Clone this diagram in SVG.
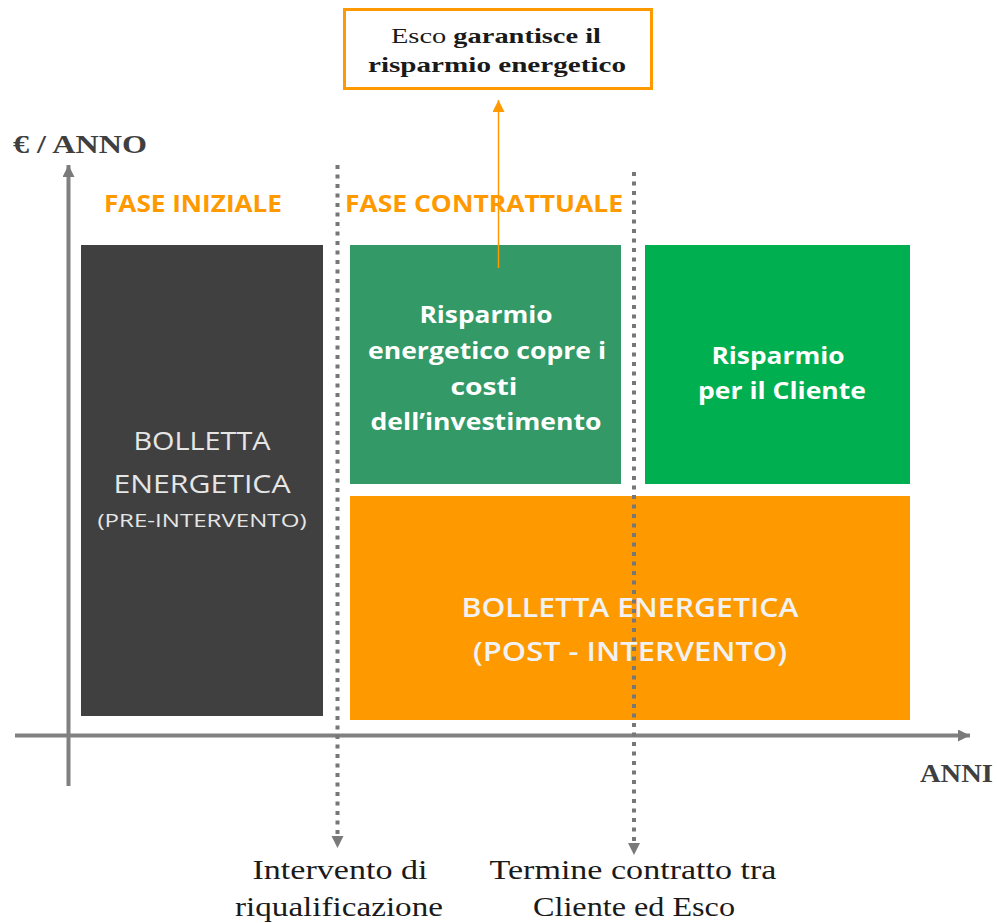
<svg xmlns="http://www.w3.org/2000/svg" width="997" height="923" viewBox="0 0 997 923">
<style>
.sans{font-family:"Open Sans","Liberation Sans",sans-serif}
.serif{font-family:"Liberation Serif","DejaVu Serif",serif}
.wt{fill:#ffffff;font-weight:bold;font-size:23px;text-anchor:middle}
.lt{fill:#e6e6e6;font-size:25px;text-anchor:middle}
.ph{fill:#ff9900;font-weight:bold;font-size:24px}
.bt{fill:#1a1a1a;font-size:27px;text-anchor:middle}
.ax{fill:#3f3f3f;font-weight:bold;font-size:25px}
.dot{stroke:#777777;stroke-width:4;stroke-dasharray:4 5.5;fill:none}
</style>
<defs>
<marker id="ga" markerWidth="14" markerHeight="14" refX="12" refY="6" orient="auto" markerUnits="userSpaceOnUse"><path d="M0,0 L12,6 L0,12 Z" fill="#7a7a7a"/></marker>
<marker id="oa" markerWidth="14" markerHeight="14" refX="12" refY="6" orient="auto" markerUnits="userSpaceOnUse"><path d="M0,0 L12,6 L0,12 Z" fill="#ff9900"/></marker>
</defs>
<rect width="997" height="923" fill="#ffffff"/>

<g id="bolletta-pre">
<rect x="81" y="245" width="242" height="471" fill="#404040"/>
<text class="sans lt" x="202" y="450" textLength="137" lengthAdjust="spacingAndGlyphs">BOLLETTA</text>
<text class="sans lt" x="202" y="493" textLength="177" lengthAdjust="spacingAndGlyphs">ENERGETICA</text>
<text class="sans lt" x="202" y="527" style="font-size:19px" textLength="209" lengthAdjust="spacingAndGlyphs">(PRE-INTERVENTO)</text>
</g>

<g id="risparmio-investimento">
<rect x="350" y="245" width="271" height="239" fill="#339966"/>
<text class="sans wt" x="486" y="323" textLength="133" lengthAdjust="spacingAndGlyphs">Risparmio</text>
<text class="sans wt" x="487" y="359" textLength="238" lengthAdjust="spacingAndGlyphs">energetico copre i</text>
<text class="sans wt" x="484" y="395" textLength="67" lengthAdjust="spacingAndGlyphs">costi</text>
<text class="sans wt" x="486" y="430" textLength="231" lengthAdjust="spacingAndGlyphs">dell’investimento</text>
</g>

<g id="risparmio-cliente">
<rect x="645" y="245" width="265" height="239" fill="#00b050"/>
<text class="sans wt" x="778" y="364" textLength="133" lengthAdjust="spacingAndGlyphs">Risparmio</text>
<text class="sans wt" x="782" y="399" textLength="168" lengthAdjust="spacingAndGlyphs">per il Cliente</text>
</g>

<g id="bolletta-post">
<rect x="350" y="496" width="560" height="224" fill="#ff9900"/>
<text class="sans lt" x="630" y="617" style="font-weight:600;font-size:27px;fill:#f2f2f2" textLength="337" lengthAdjust="spacingAndGlyphs">BOLLETTA  ENERGETICA</text>
<text class="sans lt" x="630" y="661" style="font-weight:600;font-size:27px;fill:#f2f2f2" textLength="314" lengthAdjust="spacingAndGlyphs">(POST - INTERVENTO)</text>
</g>

<g id="esco-box">
<rect x="344.5" y="9.5" width="307" height="79" fill="#ffffff" stroke="#ff9900" stroke-width="3"/>
<text class="serif" x="496" y="43" style="font-size:22px;fill:#1a1a1a;text-anchor:middle" textLength="210" lengthAdjust="spacingAndGlyphs">Esco <tspan font-weight="bold">garantisce il</tspan></text>
<text class="serif" x="497" y="72" style="font-size:22px;fill:#1a1a1a;text-anchor:middle;font-weight:bold" textLength="258" lengthAdjust="spacingAndGlyphs">risparmio energetico</text>
</g>

<g id="labels">
<text class="serif ax" x="13" y="153" textLength="134" lengthAdjust="spacingAndGlyphs">€ / ANNO</text>
<text class="serif ax" x="920" y="782" textLength="73" lengthAdjust="spacingAndGlyphs">ANNI</text>
<text class="sans ph" x="104" y="212" textLength="178" lengthAdjust="spacingAndGlyphs">FASE INIZIALE</text>
<text class="sans ph" x="345" y="212" textLength="278" lengthAdjust="spacingAndGlyphs">FASE CONTRATTUALE</text>
<text class="serif bt" x="340" y="879" textLength="175" lengthAdjust="spacingAndGlyphs">Intervento di</text>
<text class="serif bt" x="339" y="916" textLength="208" lengthAdjust="spacingAndGlyphs">riqualificazione</text>
<text class="serif bt" x="633" y="879" textLength="287" lengthAdjust="spacingAndGlyphs">Termine contratto tra</text>
<text class="serif bt" x="634" y="916" textLength="202" lengthAdjust="spacingAndGlyphs">Cliente ed Esco</text>
</g>

<g id="connectors">
<line x1="68.5" y1="786" x2="68.5" y2="165" stroke="#808080" stroke-width="4" marker-end="url(#ga)"/>
<line x1="15" y1="735.5" x2="970" y2="735.5" stroke="#808080" stroke-width="4" marker-end="url(#ga)"/>
<line x1="337.5" y1="165" x2="337.5" y2="848" class="dot" marker-end="url(#ga)"/>
<line x1="634" y1="172" x2="634" y2="855" class="dot" marker-end="url(#ga)"/>
<line x1="498.5" y1="268" x2="498.5" y2="100" stroke="#ff9900" stroke-width="1.5" marker-end="url(#oa)"/>
</g>
</svg>
